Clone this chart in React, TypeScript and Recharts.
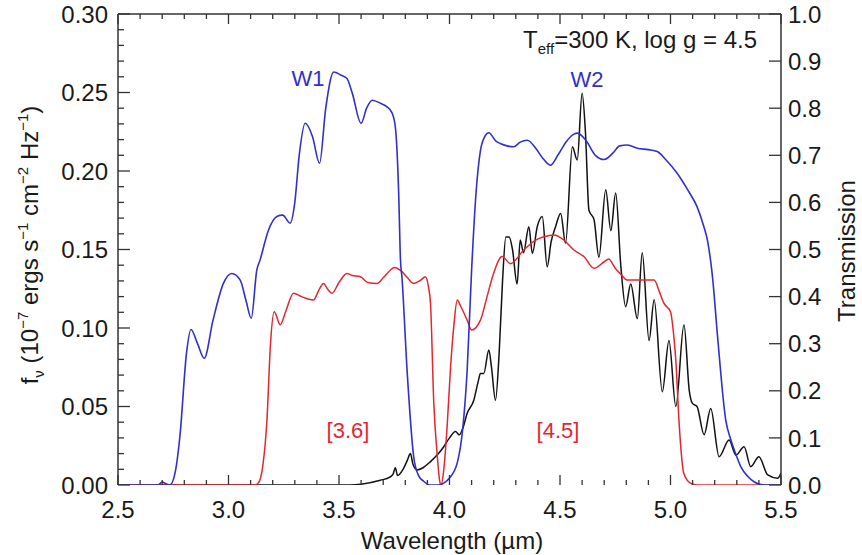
import React from 'react';
import { LineChart, Line, XAxis, YAxis } from 'recharts';

// ---- data (wavelength in micron) ----
// WISE W1 / W2 transmission (right axis)
const wiseCurve: number[][] = [
  [2.5, 0], [2.68, 0], [2.7, 0.006], [2.72, 0.002], [2.735, 0], [2.76, 0.03], [2.78, 0.103], [2.81, 0.28],
  [2.83, 0.33], [2.86, 0.3], [2.89, 0.269], [2.93, 0.35], [2.977, 0.428], [3.015, 0.449], [3.053, 0.435],
  [3.08, 0.39], [3.103, 0.354], [3.128, 0.456], [3.143, 0.478], [3.18, 0.54], [3.219, 0.57], [3.245, 0.573],
  [3.279, 0.556], [3.3, 0.6], [3.32, 0.7], [3.347, 0.768], [3.38, 0.74], [3.412, 0.683], [3.44, 0.8],
  [3.476, 0.877], [3.51, 0.87], [3.536, 0.863], [3.56, 0.832], [3.6, 0.768], [3.625, 0.8], [3.65, 0.817],
  [3.69, 0.81], [3.717, 0.803], [3.74, 0.79], [3.755, 0.76], [3.77, 0.62], [3.778, 0.48], [3.785, 0.44],
  [3.808, 0.244], [3.838, 0.06], [3.86, 0.02], [3.883, 0.008], [3.91, 0], [3.95, 0], [3.974, 0.004],
  [4.0, 0.015], [4.035, 0.047], [4.06, 0.12], [4.08, 0.244], [4.1, 0.456], [4.12, 0.62], [4.14, 0.71],
  [4.16, 0.74], [4.178, 0.748], [4.21, 0.73], [4.23, 0.725], [4.26, 0.72], [4.29, 0.718], [4.32, 0.728],
  [4.352, 0.732], [4.39, 0.715], [4.42, 0.695], [4.457, 0.679], [4.49, 0.7], [4.53, 0.73], [4.563, 0.745],
  [4.578, 0.747], [4.62, 0.73], [4.66, 0.7], [4.7, 0.691], [4.74, 0.705], [4.77, 0.72], [4.805, 0.722],
  [4.85, 0.715], [4.9, 0.712], [4.94, 0.708], [4.98, 0.69], [5.03, 0.662], [5.08, 0.625], [5.12, 0.591],
  [5.15, 0.55], [5.167, 0.52], [5.19, 0.442], [5.213, 0.315], [5.25, 0.138], [5.273, 0.096], [5.3, 0.06],
  [5.318, 0.039], [5.35, 0.018], [5.378, 0.007], [5.42, 0], [5.5, 0],
];

// IRAC [3.6] / [4.5] transmission (right axis)
const iracCurve: number[][] = [
  [2.5, 0], [3.12, 0], [3.136, 0.005], [3.155, 0.04], [3.174, 0.138], [3.19, 0.3], [3.207, 0.368],
  [3.234, 0.34], [3.26, 0.37], [3.294, 0.407], [3.33, 0.4], [3.36, 0.395], [3.385, 0.393], [3.41, 0.415],
  [3.43, 0.428], [3.45, 0.415], [3.468, 0.407], [3.5, 0.43], [3.536, 0.449], [3.56, 0.445], [3.597, 0.442],
  [3.63, 0.43], [3.672, 0.428], [3.7, 0.44], [3.732, 0.456], [3.75, 0.462], [3.78, 0.455], [3.81, 0.44],
  [3.838, 0.428], [3.87, 0.435], [3.891, 0.442], [3.905, 0.42], [3.914, 0.386], [3.929, 0.173],
  [3.945, 0.06], [3.955, 0.01], [3.962, 0], [3.974, 0.032], [3.99, 0.13], [4.004, 0.244], [4.02, 0.34],
  [4.035, 0.393], [4.05, 0.38], [4.08, 0.35], [4.1, 0.329], [4.14, 0.35], [4.17, 0.4], [4.2, 0.45],
  [4.238, 0.485], [4.276, 0.47], [4.336, 0.499], [4.39, 0.52], [4.427, 0.527], [4.472, 0.531],
  [4.518, 0.52], [4.56, 0.5], [4.608, 0.485], [4.654, 0.46], [4.7, 0.474], [4.72, 0.48], [4.75, 0.46],
  [4.78, 0.445], [4.805, 0.435], [4.86, 0.435], [4.926, 0.435], [4.95, 0.41], [4.97, 0.386], [5.0, 0.368],
  [5.012, 0.33], [5.024, 0.265], [5.04, 0.124], [5.06, 0.025], [5.09, 0.004], [5.12, 0], [5.5, 0],
];

// Model spectrum f_nu, 1e-7 erg s-1 cm-2 Hz-1 (left axis)
const spectrumCurve: number[][] = [
  [2.5, 0], [3.55, 0], [3.6, 0.0005], [3.687, 0.003], [3.73, 0.005], [3.745, 0.007], [3.755, 0.011],
  [3.765, 0.006], [3.79, 0.01], [3.81, 0.016], [3.823, 0.02], [3.835, 0.013], [3.853, 0.0096], [3.88, 0.011],
  [3.914, 0.0149], [3.95, 0.02], [3.974, 0.0244], [4.0, 0.03], [4.027, 0.034], [4.045, 0.032], [4.06, 0.036],
  [4.08, 0.0457], [4.11, 0.054], [4.13, 0.066], [4.14, 0.071], [4.155, 0.071], [4.178, 0.086], [4.19, 0.075],
  [4.208, 0.054], [4.225, 0.085], [4.24, 0.13], [4.255, 0.158], [4.27, 0.158], [4.285, 0.15], [4.306, 0.128],
  [4.32, 0.156], [4.335, 0.148], [4.359, 0.1645], [4.375, 0.1475], [4.397, 0.1645], [4.42, 0.171],
  [4.442, 0.139], [4.46, 0.155], [4.48, 0.1645], [4.503, 0.173], [4.525, 0.154], [4.556, 0.2155],
  [4.578, 0.207], [4.6, 0.2495], [4.615, 0.225], [4.631, 0.175], [4.654, 0.169], [4.676, 0.145],
  [4.707, 0.188], [4.73, 0.162], [4.752, 0.186], [4.775, 0.14], [4.797, 0.1136], [4.82, 0.128],
  [4.85, 0.106], [4.872, 0.148], [4.903, 0.092], [4.926, 0.118], [4.963, 0.0594], [4.993, 0.092],
  [5.024, 0.05], [5.061, 0.102], [5.085, 0.06], [5.099, 0.052], [5.12, 0.05], [5.152, 0.032],
  [5.182, 0.0488], [5.22, 0.018], [5.265, 0.0287], [5.296, 0.019], [5.333, 0.0244], [5.363, 0.0117],
  [5.4, 0.018], [5.44, 0.0064], [5.485, 0.0043], [5.5, 0.0076],
];

// ---- ticks ----
const xMajorTicks = [2.5, 3.0, 3.5, 4.0, 4.5, 5.0, 5.5];
const xTickLabels = ['2.5', '3.0', '3.5', '4.0', '4.5', '5.0', '5.5'];
const xAllTicks = Array.from({ length: 31 }, (_, i) => Math.round((2.5 + i * 0.1) * 100) / 100);

const leftMajorTicks = [0, 0.05, 0.1, 0.15, 0.2, 0.25, 0.3];
const leftTickLabels = ['0.00', '0.05', '0.10', '0.15', '0.20', '0.25', '0.30'];
const leftAllTicks = Array.from({ length: 31 }, (_, i) => Math.round(i * 0.01 * 1000) / 1000);

const rightTicks = [0, 0.1, 0.2, 0.3, 0.4, 0.5, 0.6, 0.7, 0.8, 0.9, 1.0];
const rightTickLabels = ['0.0', '0.1', '0.2', '0.3', '0.4', '0.5', '0.6', '0.7', '0.8', '0.9', '1.0'];

const toRows = (c: number[][]) => c.map(([x, y]) => ({ x, y }));
const wiseData = toRows(wiseCurve);
const iracData = toRows(iracCurve);
const spectrumData = toRows(spectrumCurve);

// ---- styles ----
const FONT = '"Liberation Sans", Arial, Helvetica, sans-serif';
const AXIS = '#333';
const TXT = '#1a1a1a';
const BLUE = '#3030cc';
const RED = '#e3262f';
const BLACK = '#111';
const FS = 24;

const majorIndex = (arr: number[], v: number) => arr.findIndex((m) => Math.abs(m - v) < 1e-6);

const BottomTick = (p: any) => {
  const { x, y, payload } = p;
  const i = majorIndex(xMajorTicks, payload.value);
  return (
    <g>
      <line x1={x} x2={x} y1={y} y2={y - (i >= 0 ? 10 : 5)} stroke={AXIS} strokeWidth={1.3} />
      {i >= 0 && (
        <text x={x} y={y + 33} textAnchor="middle" fontSize={FS} fontFamily={FONT} fill={TXT}>
          {xTickLabels[i]}
        </text>
      )}
    </g>
  );
};

const TopTick = (p: any) => {
  const { x, y, payload } = p;
  const i = majorIndex(xMajorTicks, payload.value);
  return <line x1={x} x2={x} y1={y} y2={y + (i >= 0 ? 10 : 5)} stroke={AXIS} strokeWidth={1.3} />;
};

const LeftTick = (p: any) => {
  const { x, y, payload } = p;
  const i = majorIndex(leftMajorTicks, payload.value);
  return (
    <g>
      <line x1={x} x2={x + (i >= 0 ? 12 : 6)} y1={y} y2={y} stroke={AXIS} strokeWidth={1.3} />
      {i >= 0 && (
        <text x={x - 10} y={y} dy="0.36em" textAnchor="end" fontSize={FS} fontFamily={FONT} fill={TXT}>
          {leftTickLabels[i]}
        </text>
      )}
    </g>
  );
};

const RightTick = (p: any) => {
  const { x, y, payload } = p;
  const i = majorIndex(rightTicks, payload.value);
  return (
    <g>
      <line x1={x} x2={x - 12} y1={y} y2={y} stroke={AXIS} strokeWidth={1.3} />
      <text x={x + 7} y={y} dy="0.36em" textAnchor="start" fontSize={FS} fontFamily={FONT} fill={TXT}>
        {rightTickLabels[i]}
      </text>
    </g>
  );
};

const axisLineStyle = { stroke: AXIS, strokeWidth: 1.5 };

export default function App() {
  return (
    <div style={{ position: 'absolute', left: 0, top: 0, width: 862, height: 555, background: '#fff' }}>
      <LineChart width={862} height={555} margin={{ top: 13, right: 80, bottom: 69, left: 117 }}>
        <XAxis
          xAxisId="b"
          type="number"
          dataKey="x"
          domain={[2.5, 5.5]}
          ticks={xAllTicks}
          interval={0}
          allowDataOverflow
          height={1}
          tickSize={0}
          tickMargin={0}
          tickLine={false}
          axisLine={false}
          tick={BottomTick}
        />
        <XAxis
          xAxisId="t"
          orientation="top"
          type="number"
          dataKey="x"
          domain={[2.5, 5.5]}
          ticks={xAllTicks}
          interval={0}
          allowDataOverflow
          height={1}
          tickSize={0}
          tickMargin={0}
          tickLine={false}
          axisLine={axisLineStyle}
          tick={TopTick}
        />
        <YAxis
          yAxisId="l"
          type="number"
          domain={[0, 0.3]}
          ticks={leftAllTicks}
          interval={0}
          allowDataOverflow
          width={1}
          tickSize={0}
          tickMargin={0}
          tickLine={false}
          axisLine={axisLineStyle}
          tick={LeftTick}
        />
        <YAxis
          yAxisId="r"
          orientation="right"
          type="number"
          domain={[0, 1]}
          ticks={rightTicks}
          interval={0}
          allowDataOverflow
          width={1}
          tickSize={0}
          tickMargin={0}
          tickLine={false}
          axisLine={axisLineStyle}
          tick={RightTick}
        />
        <Line
          data={spectrumData}
          xAxisId="b"
          yAxisId="l"
          dataKey="y"
          type="monotone"
          stroke={BLACK}
          strokeWidth={1.5}
          dot={false}
          activeDot={false}
          isAnimationActive={false}
        />
        <Line
          data={iracData}
          xAxisId="b"
          yAxisId="r"
          dataKey="y"
          type="monotone"
          stroke={RED}
          strokeWidth={1.5}
          dot={false}
          activeDot={false}
          isAnimationActive={false}
        />
        <Line
          data={wiseData}
          xAxisId="b"
          yAxisId="r"
          dataKey="y"
          type="monotone"
          stroke={BLUE}
          strokeWidth={1.6}
          dot={false}
          activeDot={false}
          isAnimationActive={false}
        />
      </LineChart>
      <svg
        width={862}
        height={555}
        style={{ position: 'absolute', left: 0, top: 0, pointerEvents: 'none' }}
        fontFamily={FONT}
      >
        <text x={757} y={48} textAnchor="end" fontSize={24} fill={TXT}>
          T<tspan fontSize={15} dy={6}>eff</tspan>
          <tspan dy={-6}>=300 K, log g = 4.5</tspan>
        </text>
        <text x={308} y={86} textAnchor="middle" fontSize={22} fill={BLUE}>W1</text>
        <text x={587} y={87} textAnchor="middle" fontSize={22} fill={BLUE}>W2</text>
        <text x={348} y={438} textAnchor="middle" fontSize={22} fill={RED}>[3.6]</text>
        <text x={558} y={438} textAnchor="middle" fontSize={22} fill={RED}>[4.5]</text>
        <text x={452} y={549} textAnchor="middle" fontSize={24} fill={TXT}>Wavelength (µm)</text>
        <text
          x={0}
          y={0}
          transform="translate(38,245) rotate(-90)"
          textAnchor="middle"
          fontSize={24}
          fill={TXT}
        >
          f<tspan fontSize={15} dy={6}>ν</tspan>
          <tspan dy={-6}> (10</tspan>
          <tspan fontSize={15} dy={-10}>−7</tspan>
          <tspan dy={10}> ergs s</tspan>
          <tspan fontSize={15} dy={-10}>−1</tspan>
          <tspan dy={10}> cm</tspan>
          <tspan fontSize={15} dy={-10}>−2</tspan>
          <tspan dy={10}> Hz</tspan>
          <tspan fontSize={15} dy={-10}>−1</tspan>
          <tspan dy={10}>)</tspan>
        </text>
        <text
          x={0}
          y={0}
          transform="translate(855,251) rotate(-90)"
          textAnchor="middle"
          fontSize={24}
          fill={TXT}
        >
          Transmission
        </text>
      </svg>
    </div>
  );
}
